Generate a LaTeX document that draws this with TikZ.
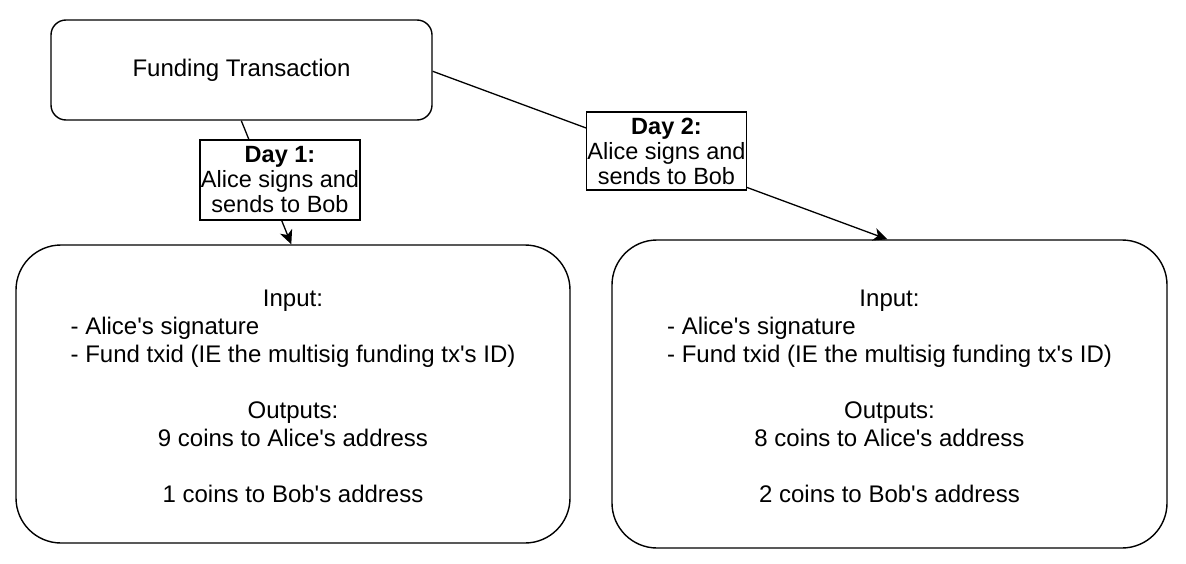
\documentclass[tikz,border=0pt]{standalone}
\usepackage{fontspec}
\setmainfont{Liberation Sans}[Ligatures=TeXOff]
\usetikzlibrary{arrows.meta,calc}
\begin{document}
\begin{tikzpicture}[x=1pt,y=-1pt,
  box/.style={draw,line width=1.4pt,rounded corners=#1,inner sep=0pt,align=center},
  lbl/.style={draw,line width=1.4pt,fill=white,inner sep=1pt,align=center,font=\fontsize{23.5}{25}\selectfont},
  conn/.style={line width=1.3pt,-{Stealth[length=14pt,width=13pt,inset=4pt]}},
  txt/.style={font=\fontsize{24}{28}\selectfont}]
\useasboundingbox (0,0) rectangle (1186,564);
\node[box=15pt,minimum width=381pt,minimum height=100pt,txt] (fund) at (241.5,70) {Funding Transaction};
\node[box=45pt,minimum width=554pt,minimum height=298pt,txt] (left) at (293,394)
 {\begin{tabular}{@{}l@{}}\noalign{\vspace{9pt}}\multicolumn{1}{@{}c@{}}{Input:}\\
 - Alice's signature\\
 - Fund txid (IE the multisig funding tx's ID)\\
 \\
 \multicolumn{1}{@{}c@{}}{Outputs:}\\
 \multicolumn{1}{@{}c@{}}{9 coins to Alice's address}\\
 \\
 \multicolumn{1}{@{}c@{}}{1 coins to Bob's address}
 \end{tabular}};
\node[box=45pt,minimum width=555pt,minimum height=308pt,txt] (right) at (889.5,394)
 {\begin{tabular}{@{}l@{}}\noalign{\vspace{9pt}}\multicolumn{1}{@{}c@{}}{Input:}\\
 - Alice's signature\\
 - Fund txid (IE the multisig funding tx's ID)\\
 \\
 \multicolumn{1}{@{}c@{}}{Outputs:}\\
 \multicolumn{1}{@{}c@{}}{8 coins to Alice's address}\\
 \\
 \multicolumn{1}{@{}c@{}}{2 coins to Bob's address}
 \end{tabular}};
\coordinate (s1) at ($(fund.south west)+(191,0)$);
\coordinate (e1) at ($(left.north west)+(276,0)$);
\coordinate (s2) at ($(fund.north east)+(0,52)$);
\coordinate (e2) at ($(right.north west)+(276,0)$);
\draw[conn] (s1) -- (e1);
\draw[conn] (s2) -- (e2);
\node[lbl,minimum width=160pt,minimum height=80pt] (l1) at (280,180) {\textbf{Day 1:}\\Alice signs and\\sends to Bob};
\node[lbl,minimum width=153pt,minimum height=78pt] (l2) at (666.5,151) {\textbf{Day 2:}\\Alice signs and\\sends to Bob};
\end{tikzpicture}
\end{document}
